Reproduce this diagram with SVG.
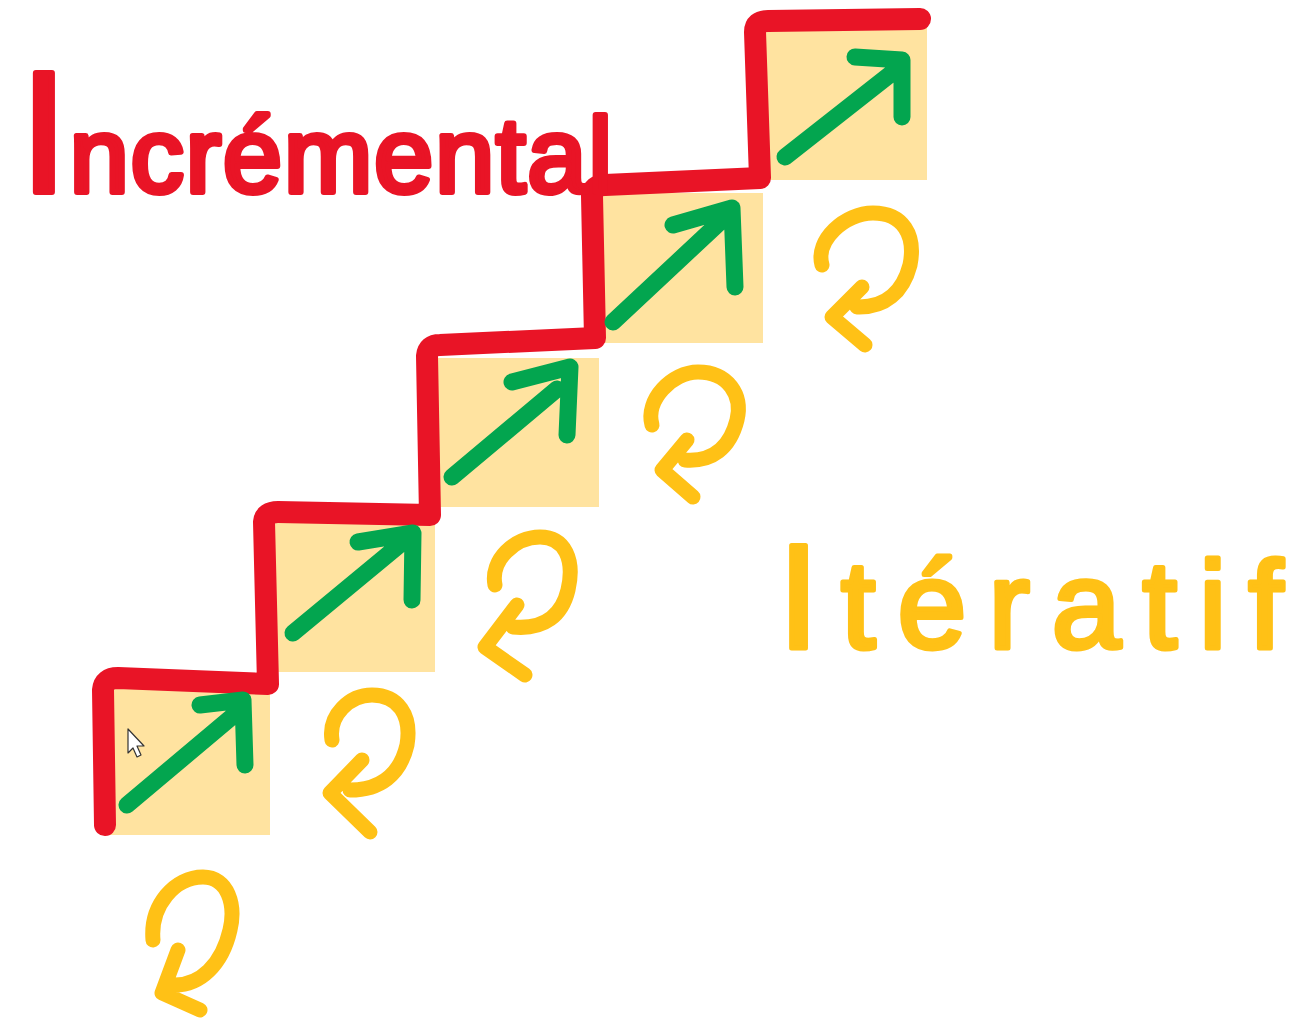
<svg xmlns="http://www.w3.org/2000/svg" width="1301" height="1026" viewBox="0 0 1301 1026">
<style>
.sq{fill:#FFE3A0}
.stair{fill:none;stroke:#E91426;stroke-width:22;stroke-linecap:round;stroke-linejoin:round}
.up{fill:none;stroke:#03A54F;stroke-width:17;stroke-linecap:round;stroke-linejoin:round}
.loop{fill:none;stroke:#FFC116;stroke-width:15;stroke-linecap:round;stroke-linejoin:round}
.inc{font-family:"Liberation Sans",Arial,sans-serif;fill:#E91426;stroke:#E91426;stroke-width:6;stroke-linejoin:round}
.ite{font-family:"Liberation Sans",Arial,sans-serif;fill:#FFC116;stroke:#FFC116;stroke-width:5;stroke-linejoin:round}
</style>
<rect width="1301" height="1026" fill="#FFFFFF"/>
<g id="step1"><rect class="sq" x="107" y="688" width="163" height="147"/></g>
<g id="step2"><rect class="sq" x="272" y="523" width="163" height="149"/></g>
<g id="step3"><rect class="sq" x="437" y="358" width="162" height="149"/></g>
<g id="step4"><rect class="sq" x="600" y="193" width="163" height="150"/></g>
<g id="step5"><rect class="sq" x="766" y="28" width="161" height="152"/></g>
<g id="connectors">
<path class="stair" d="M105,825 L103,690 Q104,678 118,678 L268,684 L264,522 Q265,512 278,512 L430,515 L427,356 Q428,345 440,345 L595,338 L592,196 Q593,185 605,185 L760,178 L755,32 Q755,21 768,21 L920,19"/>
</g>
<g id="arrows">
<path class="up" d="M127,805 L240,710 M200,705 L243,700 L245,765"/>
<path class="up" d="M293,633 L403,542 M358,542 L413,533 L412,600"/>
<path class="up" d="M452,477 L557,389 M512,382 L570,367 L567,435"/>
<path class="up" d="M613,322 L720,222 M673,225 L732,208 L735,287"/>
<path class="up" d="M785,157 L897,69 M855,57 L902,60 L902,117"/>
</g>
<g id="loop1"><path class="loop" d="M153,940 C150,905 175,877 203,877 C228,877 236,905 230,930 C222,965 200,985 175,985 M178,950 L162,993 L200,1010"/></g>
<g id="loop2"><path class="loop" d="M332,740 C328,715 350,695 372,695 C398,695 412,715 407,745 C400,775 380,790 350,790 M362,760 L330,793 L370,832"/></g>
<g id="loop3"><path class="loop" d="M495,585 C490,560 515,537 540,537 C565,537 575,560 568,590 C562,615 545,630 513,627 M517,605 L485,647 L525,675"/></g>
<g id="loop4"><path class="loop" d="M652,425 C645,400 672,372 698,372 C728,372 743,395 737,420 C730,448 712,462 685,460 M687,440 L662,470 L693,497"/></g>
<g id="loop5"><path class="loop" d="M822,265 C815,240 845,213 873,213 C903,213 916,235 910,265 C903,292 885,308 857,307 M862,287 L832,317 L865,345"/></g>
<g id="label-incremental"><text class="inc" x="20" y="192" textLength="592" lengthAdjust="spacing" font-size="106"><tspan font-size="172">I</tspan>ncrémental</text></g>
<g id="label-iteratif"><text class="ite" x="778" y="648" textLength="505" lengthAdjust="spacing" font-size="124"><tspan font-size="148">I</tspan>tératif</text></g>
<g id="cursor"><path d="M128,729 L128,753 L133,748 L137,757 L141,755 L137,746 L144,746 Z" fill="#FFFFFF" stroke="#333333" stroke-width="1.2" stroke-linejoin="round"/></g>
</svg>
